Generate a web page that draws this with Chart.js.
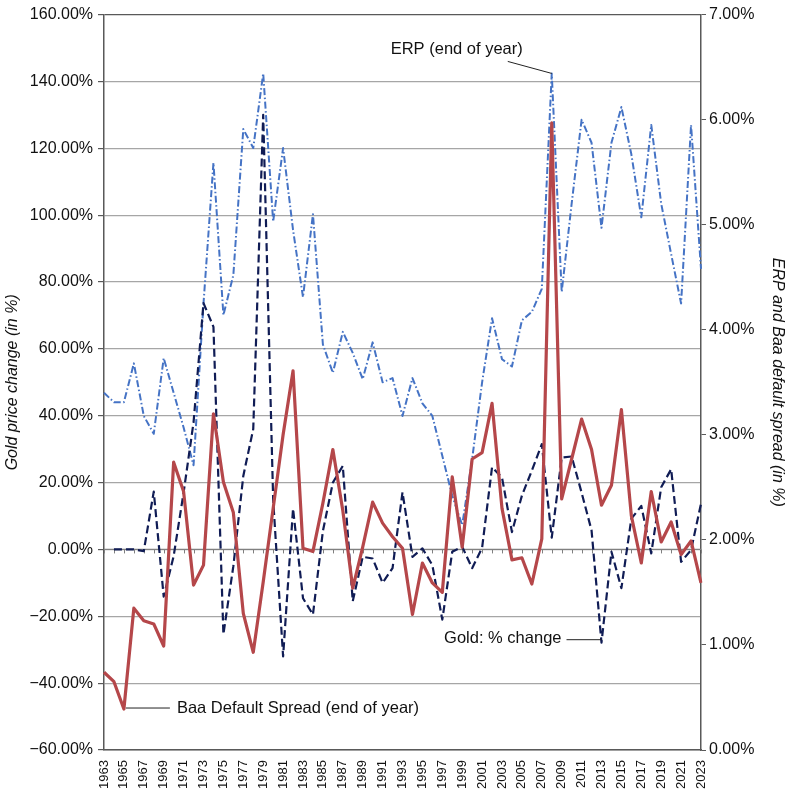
<!DOCTYPE html>
<html>
<head>
<meta charset="utf-8">
<script src="https://cdn.jsdelivr.net/npm/chart.js@4.4.1/dist/chart.umd.min.js"></script>
<style>
  html, body { margin: 0; padding: 0; background: #fff; }
</style>
</head>
<body>
<canvas id="graph" width="789" height="789"></canvas>
<script>
const ctx = document.getElementById("graph");

const years = [];
for (let y = 1963; y <= 2023; y++) years.push(String(y));

// equity risk premium, end of year (right axis, %)
const erp = [
  3.40, 3.31, 3.31, 3.68, 3.18, 3.01, 3.73, 3.40, 3.07, 2.71,
  4.25, 5.59, 4.14, 4.52, 5.91, 5.73, 6.44, 5.03, 5.73, 4.95,
  4.31, 5.10, 3.86, 3.59, 3.98, 3.78, 3.53, 3.88, 3.50, 3.54,
  3.18, 3.54, 3.30, 3.18, 2.80, 2.42, 2.14, 2.77, 3.50, 4.11,
  3.72, 3.65, 4.09, 4.17, 4.39, 6.44, 4.36, 5.20, 6.00, 5.78,
  4.97, 5.78, 6.12, 5.67, 5.07, 5.95, 5.20, 4.72, 4.25, 5.95,
  4.58,
];

// Baa default spread, end of year (right axis, %)
const baa = [
  0.74, 0.65, 0.39, 1.35, 1.23, 1.20, 0.99, 2.74, 2.46, 1.57,
  1.76, 3.20, 2.55, 2.26, 1.30, 0.93, 1.60, 2.30, 3.00, 3.61,
  1.92, 1.89, 2.35, 2.86, 2.28, 1.54, 1.93, 2.36, 2.16, 2.03,
  1.92, 1.29, 1.78, 1.59, 1.50, 2.60, 1.93, 2.77, 2.83, 3.30,
  2.30, 1.81, 1.83, 1.58, 2.01, 5.97, 2.39, 2.77, 3.15, 2.86,
  2.33, 2.52, 3.24, 2.23, 1.78, 2.46, 1.98, 2.17, 1.86, 1.99,
  1.59,
];

// gold price, % change over the year (left axis)
const gold = [
  null, 0, 0, 0, -0.5, 17.3, -14.1, -2, 17, 38,
  73.7, 66.6, -25.4, -5, 22, 36, 130, 15, -32, 12.2,
  -14.6, -19.5, 5.5, 20, 25, -15.5, -2.2, -2.7, -10, -5.6,
  17.1, -2.2, 0.3, -4.7, -21, -0.7, 0.8, -5.6, 0.5, 24.6,
  21.5, 5.2, 16.1, 23.6, 31.5, 3.5, 27.5, 27.8, 17, 5.7,
  -27.9, -0.7, -11.6, 9.2, 13, -1.2, 18.6, 24, -3.7, -0.2,
  13.7,
];

const FONT = '"Liberation Sans", Arial, sans-serif';

const extras = {
  id: "extras",
  beforeDatasetsDraw(chart) {
    const c = chart.ctx;
    const a = chart.chartArea;
    const xs = chart.scales.x;
    const y0 = chart.scales.yL.getPixelForValue(0);
    c.save();
    c.strokeStyle = "#808080";
    c.lineWidth = 1.2;
    c.beginPath();
    c.moveTo(a.left, y0);
    c.lineTo(a.right, y0);
    c.stroke();
    c.lineWidth = 1;
    c.beginPath();
    for (let i = 0; i < years.length; i++) {
      const x = Math.round(xs.getPixelForValue(i)) + 0.5;
      c.moveTo(x, y0);
      c.lineTo(x, y0 + 4);
    }
    c.stroke();
    c.restore();
  },
  afterDraw(chart) {
    const c = chart.ctx;
    const a = chart.chartArea;
    const xs = chart.scales.x;
    const yL = chart.scales.yL;
    const yR = chart.scales.yR;
    c.save();
    c.fillStyle = "#111";
    c.strokeStyle = "#222";
    c.lineWidth = 1;
    c.font = "16.5px " + FONT;
    c.textBaseline = "middle";

    // ERP label -> 2008
    let i = years.indexOf("2008");
    let px = xs.getPixelForValue(i), py = yR.getPixelForValue(erp[i]);
    c.beginPath();
    c.moveTo(px, py);
    c.lineTo(px - 44, py - 12);
    c.stroke();
    c.textAlign = "right";
    c.fillText("ERP (end of year)", px - 29, py - 24);

    // Baa label -> 1965
    i = years.indexOf("1965");
    px = xs.getPixelForValue(i);
    py = yR.getPixelForValue(baa[i]);
    c.beginPath();
    c.moveTo(px + 2, py - 1);
    c.lineTo(px + 46, py - 1);
    c.stroke();
    c.textAlign = "left";
    c.fillText("Baa Default Spread (end of year)", px + 53, py - 1);

    // Gold label -> 2013
    i = years.indexOf("2013");
    px = xs.getPixelForValue(i);
    py = yL.getPixelForValue(gold[i]);
    c.beginPath();
    c.moveTo(px, py - 3);
    c.lineTo(px - 35, py - 3);
    c.stroke();
    c.textAlign = "right";
    c.fillText("Gold: % change", px - 40, py - 4);

    // axis titles
    const midY = (a.top + a.bottom) / 2;
    c.font = "italic 16px " + FONT;
    c.textAlign = "center";
    c.translate(13, midY);
    c.rotate(-Math.PI / 2);
    c.fillText("Gold price change (in %)", 0, 0);
    c.setTransform(1, 0, 0, 1, 0, 0);
    c.translate(777, midY);
    c.rotate(Math.PI / 2);
    c.fillText("ERP and Baa default spread (in %)", 0, 0);
    c.restore();
  },
};

new Chart(ctx, {
  type: "line",
  data: {
    labels: years,
    datasets: [
      {
        label: "Baa Default Spread (end of year)",
        data: baa,
        yAxisID: "yR",
        borderColor: "#b5474a",
        borderWidth: 3.2,
        borderJoinStyle: "round",
        pointRadius: 0,
        order: 0,
      },
      {
        label: "Gold: % change",
        data: gold,
        yAxisID: "yL",
        borderColor: "#101c55",
        borderWidth: 2.2,
        borderDash: [8, 4],
        borderJoinStyle: "round",
        pointRadius: 0,
        order: 1,
      },
      {
        label: "ERP (end of year)",
        data: erp,
        yAxisID: "yR",
        borderColor: "#4573c5",
        borderWidth: 2,
        borderDash: [7, 2.5, 1.5, 2.5],
        borderJoinStyle: "round",
        pointRadius: 0,
        order: 2,
      },
    ],
  },
  options: {
    responsive: false,
    animation: false,
    layout: { padding: { top: 9 } },
    plugins: {
      legend: { display: false },
      tooltip: { enabled: false },
    },
    scales: {
      x: {
        type: "category",
        afterFit: (s) => { s.height = 39; },
        grid: { display: false },
        border: { display: true, color: "#595959", width: 1.5 },
        ticks: {
          autoSkip: false,
          maxRotation: 90,
          minRotation: 90,
          padding: 2,
          color: "#111",
          font: { family: FONT, size: 13 },
          callback: function (value, index) {
            return index % 2 === 0 ? this.getLabelForValue(value) : "";
          },
        },
      },
      yL: {
        position: "left",
        min: -60,
        max: 160,
        afterFit: (s) => { s.width = 104; },
        border: { display: true, color: "#595959", width: 1.5 },
        grid: {
          color: (c) => (c.tick && c.tick.value === 160 ? "#595959" : "#a6a6a6"),
          tickColor: "#595959",
          tickLength: 6,
          lineWidth: 1.2,
        },
        ticks: {
          stepSize: 20,
          padding: 5,
          color: "#111",
          font: { family: FONT, size: 16 },
          callback: (v) => (v < 0 ? "\u2212" : "") + Math.abs(v).toFixed(2) + "%",
        },
      },
      yR: {
        position: "right",
        min: 0,
        max: 7,
        afterFit: (s) => { s.width = 88; },
        border: { display: true, color: "#595959", width: 1.5 },
        grid: {
          drawOnChartArea: false,
          tickColor: "#595959",
          tickLength: 5,
        },
        ticks: {
          stepSize: 1,
          padding: 3,
          color: "#111",
          font: { family: FONT, size: 16 },
          callback: (v) => v.toFixed(2) + "%",
        },
      },
    },
  },
  plugins: [extras],
});
</script>
</body>
</html>
